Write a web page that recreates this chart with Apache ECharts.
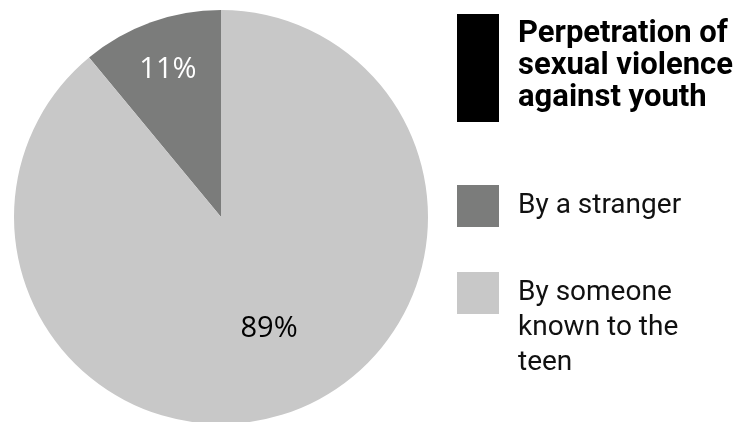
<!DOCTYPE html>
<html>
<head>
<meta charset="utf-8">
<script src="https://cdn.jsdelivr.net/npm/echarts@6/dist/echarts.min.js"></script>
<style>
html,body{margin:0;padding:0;background:#fff;}
#chart{width:754px;height:422px;}
</style>
</head>
<body>
<div id="chart"></div>
<script>
const categories = ['By a stranger', 'By someone known to the teen'];
const values = [11, 89];
const sliceColors = ['#7b7c7b', '#c8c8c8'];
const labelColors = ['#ffffff', '#000000'];
const titleText = 'Perpetration of\nsexual violence\nagainst youth';
const legendLabels = ['By a stranger', '\n\nBy someone\nknown to the\nteen'];

const chart = echarts.init(document.getElementById('chart'), null, {renderer: 'canvas'});
const labelShift = [[-17, -47], [12, 12]];

const option = {
  backgroundColor: '#ffffff',
  animation: false,
  title: {
    text: titleText,
    left: 513,
    top: 13,
    textStyle: {
      fontFamily: 'Roboto',
      fontWeight: 'bold',
      fontSize: 31,
      lineHeight: 32,
      color: '#000'
    }
  },
  graphic: [{
    type: 'rect',
    left: 457,
    top: 14,
    shape: {width: 42, height: 108},
    style: {fill: '#000'}
  }],
  legend: [0, 1].map(i => ({
    data: [categories[i]],
    left: 457,
    top: i === 0 ? 185 : 205.5,
    padding: 0,
    orient: 'vertical',
    selectedMode: false,
    icon: 'rect',
    itemWidth: 42,
    itemHeight: 42,
    formatter: () => legendLabels[i],
    textStyle: {
      fontFamily: 'Roboto',
      fontSize: 28,
      lineHeight: 35,
      color: '#111',
      padding: [0, 0, 0, 14]
    }
  })),
  series: [{
    type: 'pie',
    center: [221, 217],
    radius: [0, 207],
    startAngle: 90,
    clockwise: false,
    silent: true,
    label: {
      show: true,
      position: 'inside',
      formatter: '{c}%',
      fontFamily: 'Open Sans',
      fontSize: 29
    },
    labelLine: {show: false},
    labelLayout: (p) => ({dx: labelShift[p.dataIndex][0], dy: labelShift[p.dataIndex][1]}),
    itemStyle: {borderWidth: 0},
    data: categories.map((c, i) => ({
      name: c,
      value: values[i],
      itemStyle: {color: sliceColors[i]},
      label: {color: labelColors[i]}
    }))
  }]
};
chart.setOption(option);
</script>
</body>
</html>
